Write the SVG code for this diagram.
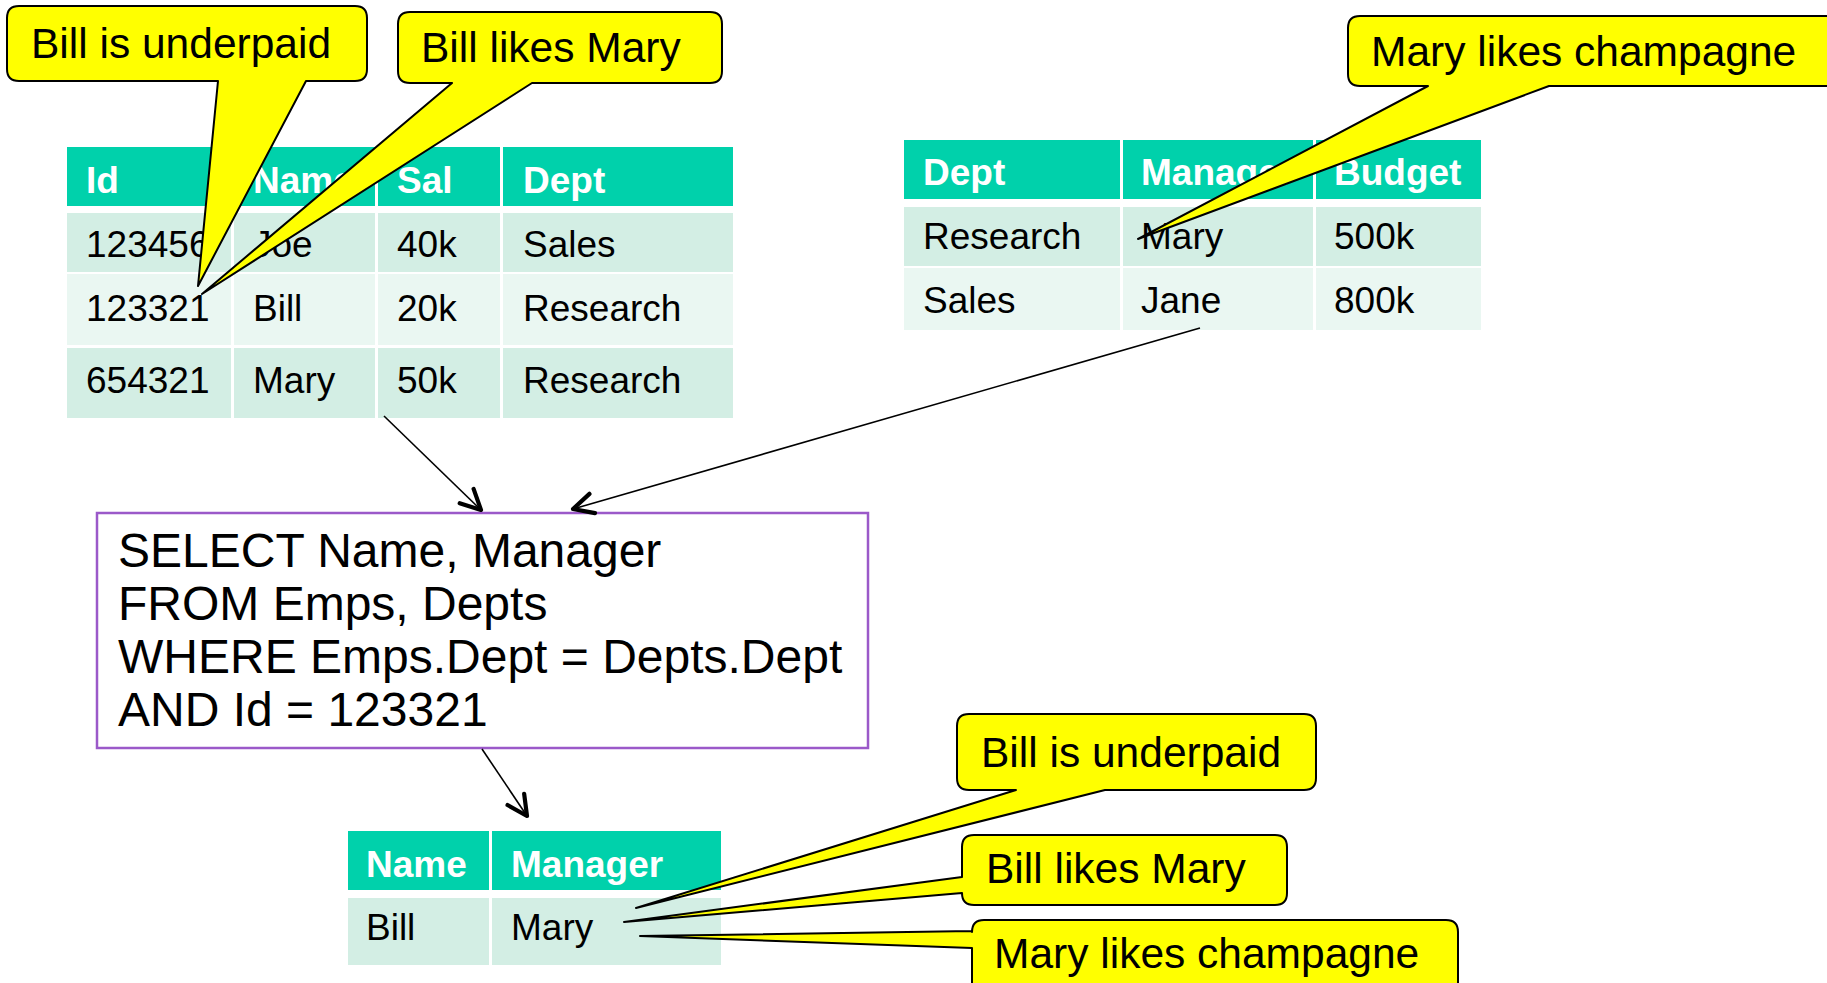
<svg xmlns="http://www.w3.org/2000/svg" width="1827" height="983" viewBox="0 0 1827 983">
  <defs>
    <style>
      .hdr { fill: #00D1AB; }
      .r1 { fill: #D3EEE4; }
      .r2 { fill: #EAF7F2; }
      .th { font-family: "Liberation Sans", Arial, sans-serif; font-weight: bold; font-size: 37px; fill: #FFFFFF; }
      .td { font-family: "Liberation Sans", Arial, sans-serif; font-size: 37px; fill: #000000; }
      .callout { fill: #FFFF00; stroke: #000000; stroke-width: 2; stroke-linejoin: round; }
      .ctext { font-family: "Liberation Sans", Arial, sans-serif; font-size: 42.5px; fill: #000000; }
      .sql { font-family: "Liberation Sans", Arial, sans-serif; font-size: 48px; fill: #000000; }
      .qbox { fill: #FFFFFF; stroke: #9B59C9; stroke-width: 2.5; }
      .conn { fill: none; stroke: #000000; stroke-width: 1.6; }
    </style>
    <marker id="arrow" markerUnits="userSpaceOnUse" markerWidth="32" markerHeight="32" viewBox="-25 -15 32 30" refX="0" refY="0" orient="auto">
      <path d="M -20,-10 L 0,0 L -20,10" fill="none" stroke="#000000" stroke-width="4.2" stroke-linecap="round" stroke-linejoin="round"/>
    </marker>
  </defs>

  <rect width="1827" height="983" fill="#FFFFFF"/>

  <!-- Emps table -->
  <g id="emps">
    <rect class="hdr" x="67" y="147" width="164" height="59"/>
    <rect class="hdr" x="234" y="147" width="141" height="59"/>
    <rect class="hdr" x="378" y="147" width="122" height="59"/>
    <rect class="hdr" x="503" y="147" width="230" height="59"/>
    <rect class="r1" x="67" y="213" width="164" height="59"/>
    <rect class="r1" x="234" y="213" width="141" height="59"/>
    <rect class="r1" x="378" y="213" width="122" height="59"/>
    <rect class="r1" x="503" y="213" width="230" height="59"/>
    <rect class="r2" x="67" y="274" width="164" height="71"/>
    <rect class="r2" x="234" y="274" width="141" height="71"/>
    <rect class="r2" x="378" y="274" width="122" height="71"/>
    <rect class="r2" x="503" y="274" width="230" height="71"/>
    <rect class="r1" x="67" y="348" width="164" height="70"/>
    <rect class="r1" x="234" y="348" width="141" height="70"/>
    <rect class="r1" x="378" y="348" width="122" height="70"/>
    <rect class="r1" x="503" y="348" width="230" height="70"/>
    <text class="th" x="86" y="193">Id</text>
    <text class="th" x="253" y="193">Name</text>
    <text class="th" x="397" y="193">Sal</text>
    <text class="th" x="523" y="193">Dept</text>
    <text class="td" x="86" y="257">123456</text>
    <text class="td" x="253" y="257">Joe</text>
    <text class="td" x="397" y="257">40k</text>
    <text class="td" x="523" y="257">Sales</text>
    <text class="td" x="86" y="321">123321</text>
    <text class="td" x="253" y="321">Bill</text>
    <text class="td" x="397" y="321">20k</text>
    <text class="td" x="523" y="321">Research</text>
    <text class="td" x="86" y="393">654321</text>
    <text class="td" x="253" y="393">Mary</text>
    <text class="td" x="397" y="393">50k</text>
    <text class="td" x="523" y="393">Research</text>
  </g>

  <!-- Depts table -->
  <g id="depts">
    <rect class="hdr" x="904" y="140" width="216" height="59"/>
    <rect class="hdr" x="1123" y="140" width="190" height="59"/>
    <rect class="hdr" x="1316" y="140" width="165" height="59"/>
    <rect class="r1" x="904" y="207" width="216" height="59"/>
    <rect class="r1" x="1123" y="207" width="190" height="59"/>
    <rect class="r1" x="1316" y="207" width="165" height="59"/>
    <rect class="r2" x="904" y="268" width="216" height="62"/>
    <rect class="r2" x="1123" y="268" width="190" height="62"/>
    <rect class="r2" x="1316" y="268" width="165" height="62"/>
    <text class="th" x="923" y="185">Dept</text>
    <text class="th" x="1141" y="185">Manager</text>
    <text class="th" x="1334" y="185">Budget</text>
    <text class="td" x="923" y="249">Research</text>
    <text class="td" x="1141" y="249">Mary</text>
    <text class="td" x="1334" y="249">500k</text>
    <text class="td" x="923" y="313">Sales</text>
    <text class="td" x="1141" y="313">Jane</text>
    <text class="td" x="1334" y="313">800k</text>
  </g>

  <!-- SQL query -->
  <g id="query">
    <rect class="qbox" x="97" y="513" width="771" height="235"/>
    <text class="sql" x="118" y="567">SELECT Name, Manager</text>
    <text class="sql" x="118" y="620">FROM Emps, Depts</text>
    <text class="sql" x="118" y="673">WHERE Emps.Dept = Depts.Dept</text>
    <text class="sql" x="118" y="726">AND Id = 123321</text>
  </g>

  <!-- Result table -->
  <g id="result">
    <rect class="hdr" x="348" y="831" width="141" height="59"/>
    <rect class="hdr" x="492" y="831" width="229" height="59"/>
    <rect class="r1" x="348" y="898" width="141" height="67"/>
    <rect class="r1" x="492" y="898" width="229" height="67"/>
    <text class="th" x="366" y="877">Name</text>
    <text class="th" x="511" y="877">Manager</text>
    <text class="td" x="366" y="940">Bill</text>
    <text class="td" x="511" y="940">Mary</text>
  </g>

  <!-- Connectors -->
  <g id="connectors">
    <line class="conn" x1="384" y1="416" x2="481" y2="510" marker-end="url(#arrow)"/>
    <line class="conn" x1="1200" y1="328" x2="573" y2="509" marker-end="url(#arrow)"/>
    <line class="conn" x1="482" y1="749" x2="527" y2="816" marker-end="url(#arrow)"/>
  </g>

  <!-- Callouts on the source tables -->
  <g id="callout-underpaid-top">
    <path class="callout" d="M 19,6 H 355 Q 367,6 367,18 V 69 Q 367,81 355,81 H 306 L 198,286 L 218,81 H 19 Q 7,81 7,69 V 18 Q 7,6 19,6 Z"/>
    <text class="ctext" x="31" y="58">Bill is underpaid</text>
  </g>
  <g id="callout-likes-top">
    <path class="callout" d="M 410,12 H 710 Q 722,12 722,24 V 71 Q 722,83 710,83 H 532 L 202,294 L 452,83 H 410 Q 398,83 398,71 V 24 Q 398,12 410,12 Z"/>
    <text class="ctext" x="421" y="62">Bill likes Mary</text>
  </g>
  <g id="callout-champagne-top">
    <path class="callout" d="M 1360,16 H 1840 Q 1852,16 1852,28 V 74 Q 1852,86 1840,86 H 1549 L 1138,239 L 1428,86 H 1360 Q 1348,86 1348,74 V 28 Q 1348,16 1360,16 Z"/>
    <text class="ctext" x="1371" y="66">Mary likes champagne</text>
  </g>

  <!-- Callouts on the result -->
  <g id="callout-underpaid-result">
    <path class="callout" d="M 969,714 H 1304 Q 1316,714 1316,726 V 778 Q 1316,790 1304,790 H 1105 L 636,908 L 1016,790 H 969 Q 957,790 957,778 V 726 Q 957,714 969,714 Z"/>
    <text class="ctext" x="981" y="767">Bill is underpaid</text>
  </g>
  <g id="callout-likes-result">
    <path class="callout" d="M 974,835 H 1275 Q 1287,835 1287,847 V 893 Q 1287,905 1275,905 H 974 Q 962,905 962,893 L 624,922 L 962,877 V 847 Q 962,835 974,835 Z"/>
    <text class="ctext" x="986" y="883">Bill likes Mary</text>
  </g>
  <g id="callout-champagne-result">
    <path class="callout" d="M 984,920 H 1446 Q 1458,920 1458,932 V 1000 H 972 V 948 L 640,936 L 972,931 V 932 Q 972,920 984,920 Z"/>
    <text class="ctext" x="994" y="968">Mary likes champagne</text>
  </g>
</svg>
